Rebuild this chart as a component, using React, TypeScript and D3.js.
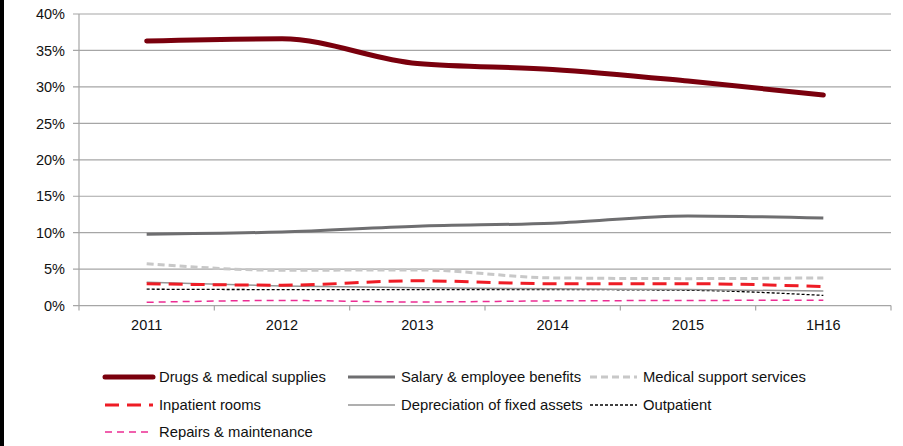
import React from "react";
import * as d3 from "d3";

const periods = ["2011", "2012", "2013", "2014", "2015", "1H16"];
const yTicks = [0, 5, 10, 15, 20, 25, 30, 35, 40];

const drugs = [36.3, 36.6, 33.2, 32.4, 30.8, 28.9];
const salary = [9.8, 10.1, 10.9, 11.3, 12.3, 12.0];
const medicalSupport = [5.75, 4.85, 4.9, 3.8, 3.7, 3.8];
const inpatient = [3.0, 2.8, 3.4, 3.0, 3.0, 2.6];
const depreciation = [3.2, 2.7, 2.45, 2.3, 2.2, 2.0];
const outpatient = [2.25, 2.2, 2.2, 2.2, 2.1, 1.4];
const repairs = [0.45, 0.7, 0.5, 0.65, 0.7, 0.75];

type Series = {
  name: string;
  values: number[];
  color: string;
  width: number;
  dash?: string;
  cap: "round" | "butt";
};

const series: Series[] = [
  { name: "Drugs & medical supplies", values: drugs, color: "#7a000d", width: 5, cap: "round" },
  { name: "Salary & employee benefits", values: salary, color: "#6e6e70", width: 3, cap: "butt" },
  { name: "Medical support services", values: medicalSupport, color: "#c8c8c8", width: 3, dash: "7 4", cap: "butt" },
  { name: "Inpatient rooms", values: inpatient, color: "#ee1c25", width: 3, dash: "14 8", cap: "butt" },
  { name: "Depreciation of fixed assets", values: depreciation, color: "#959595", width: 1.5, cap: "butt" },
  { name: "Outpatient", values: outpatient, color: "#000000", width: 1.3, dash: "3 2", cap: "butt" },
  { name: "Repairs & maintenance", values: repairs, color: "#ec2c93", width: 1.5, dash: "7 5", cap: "butt" },
];

// draw order: thin lines first, thick ones on top
const drawOrder = [6, 5, 4, 2, 3, 1, 0];

const W = 903;
const H = 446;
const left = 79;
const right = 891;
const top = 14;
const bottom = 305.6;

const font = "'Liberation Sans', Arial, Helvetica, sans-serif";

export default function App() {
  const x = d3.scaleBand<string>().domain(periods).range([left, right]);
  const y = d3.scaleLinear().domain([0, 40]).range([bottom, top]);
  const cx = (p: string) => (x(p) as number) + x.bandwidth() / 2;

  const line = (vals: number[]) =>
    d3
      .line<number>()
      .x((_, i) => cx(periods[i]))
      .y((v) => y(v))
      .curve(d3.curveMonotoneX)(vals) as string;

  const tickXs = [...periods.map((p) => x(p) as number), right];

  const legendCols = [105, 348, 590];
  const legendRows = [377, 405, 432];
  const legendLen = [48, 47, 47];

  return (
    <div style={{ position: "fixed", left: 0, top: 0 }}>
      <svg width={W} height={H} style={{ display: "block", background: "#fff" }}>
        <rect x={0} y={0} width={4} height={H} fill="#000" />
        {/* gridlines with left tick stubs */}
        {yTicks.map((t) => (
          <g key={t}>
            <line
              x1={left - 6}
              x2={right}
              y1={y(t)}
              y2={y(t)}
              stroke="#a6a6a6"
              strokeWidth={1.2}
            />
            <text
              x={65}
              y={y(t)}
              dy="0.36em"
              textAnchor="end"
              fontFamily={font}
              fontSize={14.5}
              fill="#111"
            >
              {t}%
            </text>
          </g>
        ))}
        <line x1={left} x2={left} y1={top} y2={bottom} stroke="#a6a6a6" strokeWidth={1.2} />
        {tickXs.map((tx, i) => (
          <line key={i} x1={tx} x2={tx} y1={bottom} y2={bottom + 5} stroke="#a6a6a6" strokeWidth={1.2} />
        ))}
        {periods.map((p) => (
          <text
            key={p}
            x={cx(p)}
            y={325}
            dy="0.36em"
            textAnchor="middle"
            fontFamily={font}
            fontSize={14.5}
            fill="#111"
          >
            {p}
          </text>
        ))}
        {drawOrder.map((i) => {
          const s = series[i];
          return (
            <path
              key={s.name}
              d={line(s.values)}
              fill="none"
              stroke={s.color}
              strokeWidth={s.width}
              strokeDasharray={s.dash}
              strokeLinecap={s.cap}
              strokeLinejoin="round"
            />
          );
        })}
        {series.map((s, i) => {
          const col = i % 3;
          const row = Math.floor(i / 3);
          const lx = legendCols[col];
          const ly = legendRows[row];
          return (
            <g key={s.name}>
              <line
                x1={lx}
                x2={lx + legendLen[col]}
                y1={ly}
                y2={ly}
                stroke={s.color}
                strokeWidth={s.width}
                strokeDasharray={s.dash}
                strokeLinecap={s.cap}
              />
              <text
                x={lx + legendLen[col] + 6}
                y={ly}
                dy="0.36em"
                fontFamily={font}
                fontSize={14.8}
                fill="#111"
              >
                {s.name}
              </text>
            </g>
          );
        })}
      </svg>
    </div>
  );
}
